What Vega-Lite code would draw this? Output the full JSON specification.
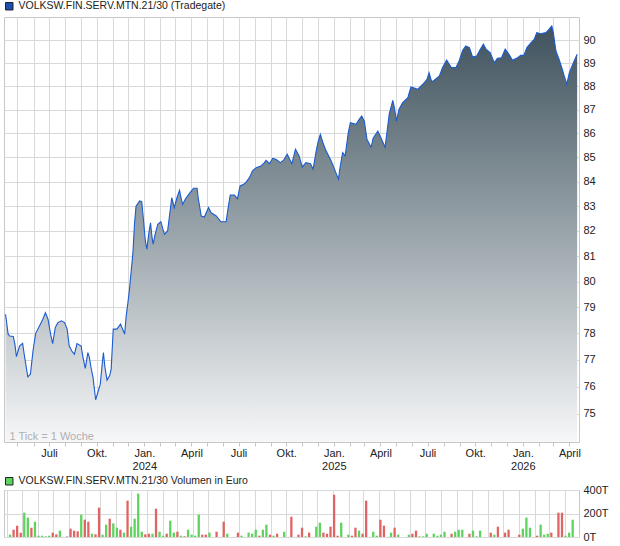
{
"$schema": "https://vega.github.io/schema/vega-lite/v6.json",
"background": "white",
"padding": {"left": 3, "top": 0, "right": 5, "bottom": 4},
"bounds": "flush",
"spacing": 48,
"config": {
  "font": "Liberation Sans",
  "view": {"stroke": "#c8c8c8"},
  "axis": {"gridColor": "#d9d9d9", "labelFont": "Liberation Sans", "titleFont": "Liberation Sans"},
  "legend": {"labelFont": "Liberation Sans"}
},
"resolve": {"scale": {"fill": "independent", "color": "independent", "stroke": "independent"}, "legend": {"fill": "independent", "stroke": "independent", "color": "independent"}},
"datasets": {
"price": [
{"date":"2023-04-08","price":78.73},{"date":"2023-04-13","price":77.97},{"date":"2023-04-16","price":77.90},{"date":"2023-04-23","price":77.88},{"date":"2023-04-26","price":77.59},{"date":"2023-04-29","price":77.12},{"date":"2023-05-05","price":77.52},{"date":"2023-05-11","price":77.62},{"date":"2023-05-14","price":77.21},{"date":"2023-05-21","price":76.36},{"date":"2023-05-26","price":76.46},{"date":"2023-05-31","price":77.33},{"date":"2023-06-05","price":77.99},{"date":"2023-06-11","price":78.22},{"date":"2023-06-19","price":78.54},{"date":"2023-06-24","price":78.79},{"date":"2023-06-29","price":78.54},{"date":"2023-07-04","price":77.97},{"date":"2023-07-08","price":77.61},{"date":"2023-07-13","price":78.22},{"date":"2023-07-18","price":78.41},{"date":"2023-07-25","price":78.48},{"date":"2023-07-31","price":78.41},{"date":"2023-08-05","price":78.16},{"date":"2023-08-09","price":77.52},{"date":"2023-08-14","price":77.33},{"date":"2023-08-19","price":77.21},{"date":"2023-08-24","price":77.61},{"date":"2023-09-01","price":77.52},{"date":"2023-09-04","price":77.14},{"date":"2023-09-09","price":76.68},{"date":"2023-09-14","price":77.27},{"date":"2023-09-17","price":77.08},{"date":"2023-09-20","price":76.71},{"date":"2023-09-24","price":76.33},{"date":"2023-09-29","price":75.51},{"date":"2023-10-03","price":75.77},{"date":"2023-10-08","price":76.09},{"date":"2023-10-11","price":76.71},{"date":"2023-10-14","price":77.27},{"date":"2023-10-17","price":76.71},{"date":"2023-10-21","price":76.24},{"date":"2023-10-26","price":76.40},{"date":"2023-10-29","price":76.65},{"date":"2023-11-02","price":78.16},{"date":"2023-11-09","price":78.16},{"date":"2023-11-16","price":78.35},{"date":"2023-11-21","price":78.12},{"date":"2023-11-24","price":77.97},{"date":"2023-11-27","price":78.67},{"date":"2023-11-30","price":79.12},{"date":"2023-12-03","price":79.63},{"date":"2023-12-10","price":81.13},{"date":"2023-12-13","price":82.27},{"date":"2023-12-16","price":83.00},{"date":"2023-12-23","price":83.21},{"date":"2023-12-27","price":83.18},{"date":"2023-12-30","price":82.53},
{"date":"2024-01-03","price":81.60},{"date":"2024-01-06","price":81.27},{"date":"2024-01-09","price":81.80},{"date":"2024-01-13","price":82.33},{"date":"2024-01-16","price":81.73},{"date":"2024-01-18","price":81.47},{"date":"2024-01-22","price":81.87},{"date":"2024-01-27","price":82.27},{"date":"2024-02-02","price":82.37},{"date":"2024-02-06","price":82.06},{"date":"2024-02-09","price":81.87},{"date":"2024-02-15","price":82.00},{"date":"2024-02-19","price":82.67},{"date":"2024-02-23","price":83.34},{"date":"2024-02-28","price":82.94},{"date":"2024-03-04","price":83.34},{"date":"2024-03-09","price":83.64},{"date":"2024-03-12","price":83.34},{"date":"2024-03-15","price":83.07},{"date":"2024-03-20","price":83.28},{"date":"2024-03-28","price":83.51},{"date":"2024-04-05","price":83.73},{"date":"2024-04-12","price":83.73},{"date":"2024-04-14","price":83.34},{"date":"2024-04-20","price":82.60},{"date":"2024-04-26","price":82.56},{"date":"2024-05-04","price":82.94},{"date":"2024-05-09","price":82.73},{"date":"2024-05-19","price":82.60},{"date":"2024-05-28","price":82.37},{"date":"2024-06-07","price":82.37},{"date":"2024-06-11","price":82.94},{"date":"2024-06-15","price":83.45},{"date":"2024-06-23","price":83.45},{"date":"2024-06-29","price":83.30},{"date":"2024-07-04","price":83.82},{"date":"2024-07-11","price":83.89},{"date":"2024-07-15","price":83.96},{"date":"2024-07-22","price":84.16},{"date":"2024-07-28","price":84.44},{"date":"2024-08-04","price":84.57},{"date":"2024-08-13","price":84.64},{"date":"2024-08-20","price":84.78},{"date":"2024-08-23","price":84.88},{"date":"2024-08-30","price":84.74},{"date":"2024-09-05","price":84.96},{"date":"2024-09-11","price":84.92},{"date":"2024-09-20","price":84.78},{"date":"2024-09-26","price":84.88},{"date":"2024-10-03","price":85.13},{"date":"2024-10-12","price":84.74},{"date":"2024-10-19","price":85.34},{"date":"2024-10-26","price":85.06},{"date":"2024-11-01","price":84.60},{"date":"2024-11-08","price":84.78},{"date":"2024-11-17","price":84.74},{"date":"2024-11-22","price":84.51},{"date":"2024-11-28","price":85.27},{"date":"2024-12-02","price":85.68},{"date":"2024-12-06","price":85.96},{"date":"2024-12-11","price":85.61},{"date":"2024-12-17","price":85.27},{"date":"2024-12-27","price":84.85},
{"date":"2025-01-05","price":84.37},{"date":"2025-01-10","price":84.10},{"date":"2025-01-13","price":84.57},{"date":"2025-01-18","price":85.20},{"date":"2025-01-23","price":85.06},{"date":"2025-01-26","price":85.55},{"date":"2025-01-29","price":86.03},{"date":"2025-02-02","price":86.45},{"date":"2025-02-13","price":86.38},{"date":"2025-02-19","price":86.59},{"date":"2025-02-24","price":86.73},{"date":"2025-03-01","price":86.52},{"date":"2025-03-06","price":85.76},{"date":"2025-03-14","price":85.42},{"date":"2025-03-18","price":85.80},{"date":"2025-03-27","price":86.10},{"date":"2025-04-02","price":85.82},{"date":"2025-04-10","price":85.42},{"date":"2025-04-14","price":86.10},{"date":"2025-04-18","price":86.81},{"date":"2025-04-25","price":87.40},{"date":"2025-04-28","price":87.09},{"date":"2025-05-02","price":86.52},{"date":"2025-05-07","price":87.02},{"date":"2025-05-14","price":87.30},{"date":"2025-05-24","price":87.51},{"date":"2025-05-30","price":87.97},{"date":"2025-06-04","price":87.94},{"date":"2025-06-12","price":87.87},{"date":"2025-06-22","price":88.09},{"date":"2025-06-30","price":88.30},{"date":"2025-07-04","price":88.59},{"date":"2025-07-09","price":88.20},{"date":"2025-07-14","price":88.26},{"date":"2025-07-24","price":88.45},{"date":"2025-07-30","price":88.81},{"date":"2025-08-07","price":89.13},{"date":"2025-08-16","price":88.81},{"date":"2025-08-25","price":88.81},{"date":"2025-08-31","price":89.10},{"date":"2025-09-07","price":89.56},{"date":"2025-09-13","price":89.75},{"date":"2025-09-20","price":89.68},{"date":"2025-09-26","price":89.27},{"date":"2025-10-04","price":89.31},{"date":"2025-10-11","price":89.61},{"date":"2025-10-17","price":89.83},{"date":"2025-10-22","price":89.61},{"date":"2025-10-30","price":89.46},{"date":"2025-11-07","price":89.02},{"date":"2025-11-13","price":89.21},{"date":"2025-11-21","price":89.24},{"date":"2025-11-28","price":89.61},{"date":"2025-12-06","price":89.36},{"date":"2025-12-12","price":89.13},{"date":"2025-12-22","price":89.24},{"date":"2025-12-28","price":89.34},
{"date":"2026-01-03","price":89.34},{"date":"2026-01-09","price":89.68},{"date":"2026-01-17","price":89.90},{"date":"2026-01-23","price":90.04},{"date":"2026-01-28","price":90.34},{"date":"2026-02-04","price":90.29},{"date":"2026-02-15","price":90.34},{"date":"2026-02-21","price":90.49},{"date":"2026-02-26","price":90.63},{"date":"2026-03-01","price":90.34},{"date":"2026-03-06","price":89.53},{"date":"2026-03-12","price":89.17},{"date":"2026-03-19","price":88.69},{"date":"2026-03-22","price":88.45},{"date":"2026-03-27","price":88.09},{"date":"2026-04-01","price":88.59},{"date":"2026-04-08","price":88.98},{"date":"2026-04-16","price":89.39}
],
"volume": [
{"date":"2023-04-07","vol":20,"dir":"up"},{"date":"2023-04-14","vol":62,"dir":"down"},{"date":"2023-04-21","vol":96,"dir":"down"},{"date":"2023-04-28","vol":37,"dir":"down"},{"date":"2023-05-05","vol":207,"dir":"up"},{"date":"2023-05-12","vol":165,"dir":"up"},{"date":"2023-05-19","vol":79,"dir":"down"},{"date":"2023-05-26","vol":130,"dir":"up"},{"date":"2023-06-02","vol":11,"dir":"up"},{"date":"2023-06-09","vol":11,"dir":"up"},{"date":"2023-06-16","vol":6,"dir":"up"},{"date":"2023-06-23","vol":11,"dir":"up"},{"date":"2023-06-30","vol":37,"dir":"down"},{"date":"2023-07-07","vol":23,"dir":"down"},{"date":"2023-07-14","vol":54,"dir":"up"},{"date":"2023-07-28","vol":8,"dir":"flat"},{"date":"2023-08-04","vol":71,"dir":"down"},{"date":"2023-08-11","vol":54,"dir":"down"},{"date":"2023-08-18","vol":48,"dir":"down"},{"date":"2023-08-25","vol":190,"dir":"up"},{"date":"2023-09-01","vol":147,"dir":"down"},{"date":"2023-09-08","vol":130,"dir":"down"},{"date":"2023-09-15","vol":28,"dir":"up"},{"date":"2023-09-22","vol":23,"dir":"down"},{"date":"2023-09-29","vol":250,"dir":"down"},{"date":"2023-10-06","vol":20,"dir":"up"},{"date":"2023-10-13","vol":105,"dir":"up"},{"date":"2023-10-20","vol":156,"dir":"down"},{"date":"2023-10-27","vol":116,"dir":"up"},{"date":"2023-11-03","vol":79,"dir":"up"},{"date":"2023-11-10","vol":62,"dir":"down"},{"date":"2023-11-17","vol":37,"dir":"up"},{"date":"2023-11-24","vol":309,"dir":"down"},{"date":"2023-12-01","vol":88,"dir":"up"},{"date":"2023-12-08","vol":156,"dir":"up"},{"date":"2023-12-15","vol":369,"dir":"up"},{"date":"2023-12-22","vol":45,"dir":"up"},{"date":"2023-12-29","vol":23,"dir":"down"},
{"date":"2024-01-05","vol":28,"dir":"down"},{"date":"2024-01-12","vol":28,"dir":"up"},{"date":"2024-01-19","vol":241,"dir":"down"},{"date":"2024-01-26","vol":45,"dir":"up"},{"date":"2024-02-02","vol":11,"dir":"up"},{"date":"2024-02-09","vol":28,"dir":"down"},{"date":"2024-02-16","vol":139,"dir":"up"},{"date":"2024-02-23","vol":37,"dir":"up"},{"date":"2024-03-01","vol":45,"dir":"down"},{"date":"2024-03-08","vol":11,"dir":"up"},{"date":"2024-03-15","vol":6,"dir":"down"},{"date":"2024-03-22","vol":62,"dir":"up"},{"date":"2024-03-29","vol":20,"dir":"up"},{"date":"2024-04-05","vol":11,"dir":"up"},{"date":"2024-04-12","vol":190,"dir":"up"},{"date":"2024-04-19","vol":20,"dir":"down"},{"date":"2024-04-26","vol":20,"dir":"down"},{"date":"2024-05-03","vol":37,"dir":"up"},{"date":"2024-05-17","vol":45,"dir":"down"},{"date":"2024-05-31","vol":130,"dir":"down"},{"date":"2024-06-07","vol":28,"dir":"up"},{"date":"2024-06-28","vol":37,"dir":"down"},{"date":"2024-07-05","vol":11,"dir":"up"},{"date":"2024-07-19","vol":37,"dir":"up"},{"date":"2024-07-26","vol":28,"dir":"up"},{"date":"2024-08-02","vol":62,"dir":"up"},{"date":"2024-08-09","vol":11,"dir":"down"},{"date":"2024-08-16","vol":62,"dir":"up"},{"date":"2024-08-23","vol":105,"dir":"up"},{"date":"2024-08-30","vol":20,"dir":"down"},{"date":"2024-09-06","vol":11,"dir":"up"},{"date":"2024-09-13","vol":28,"dir":"down"},{"date":"2024-09-27","vol":45,"dir":"up"},{"date":"2024-10-11","vol":173,"dir":"down"},{"date":"2024-10-25","vol":20,"dir":"down"},{"date":"2024-11-01","vol":79,"dir":"down"},{"date":"2024-11-08","vol":6,"dir":"up"},{"date":"2024-11-15","vol":37,"dir":"down"},{"date":"2024-11-29","vol":88,"dir":"up"},{"date":"2024-12-06","vol":122,"dir":"up"},{"date":"2024-12-13","vol":37,"dir":"down"},{"date":"2024-12-20","vol":28,"dir":"down"},{"date":"2024-12-27","vol":88,"dir":"down"},
{"date":"2025-01-03","vol":360,"dir":"down"},{"date":"2025-01-10","vol":11,"dir":"down"},{"date":"2025-01-17","vol":122,"dir":"up"},{"date":"2025-01-31","vol":20,"dir":"up"},{"date":"2025-02-07","vol":11,"dir":"down"},{"date":"2025-02-14","vol":79,"dir":"down"},{"date":"2025-02-21","vol":54,"dir":"up"},{"date":"2025-02-28","vol":28,"dir":"down"},{"date":"2025-03-07","vol":309,"dir":"down"},{"date":"2025-03-21","vol":45,"dir":"up"},{"date":"2025-03-28","vol":11,"dir":"up"},{"date":"2025-04-04","vol":147,"dir":"down"},{"date":"2025-04-11","vol":96,"dir":"down"},{"date":"2025-04-25","vol":37,"dir":"up"},{"date":"2025-05-02","vol":79,"dir":"down"},{"date":"2025-05-09","vol":20,"dir":"up"},{"date":"2025-05-30","vol":20,"dir":"up"},{"date":"2025-06-06","vol":28,"dir":"down"},{"date":"2025-06-13","vol":54,"dir":"down"},{"date":"2025-06-20","vol":6,"dir":"up"},{"date":"2025-06-27","vol":6,"dir":"up"},{"date":"2025-07-04","vol":28,"dir":"up"},{"date":"2025-07-18","vol":28,"dir":"up"},{"date":"2025-07-25","vol":11,"dir":"up"},{"date":"2025-08-01","vol":20,"dir":"up"},{"date":"2025-08-08","vol":45,"dir":"up"},{"date":"2025-08-22","vol":28,"dir":"down"},{"date":"2025-08-29","vol":45,"dir":"up"},{"date":"2025-09-05","vol":62,"dir":"up"},{"date":"2025-09-12","vol":62,"dir":"up"},{"date":"2025-09-26","vol":28,"dir":"down"},{"date":"2025-10-03","vol":54,"dir":"up"},{"date":"2025-10-10","vol":6,"dir":"up"},{"date":"2025-10-17","vol":54,"dir":"up"},{"date":"2025-11-07","vol":37,"dir":"down"},{"date":"2025-11-14","vol":20,"dir":"up"},{"date":"2025-11-21","vol":88,"dir":"down"},{"date":"2025-12-05","vol":37,"dir":"down"},{"date":"2025-12-12","vol":62,"dir":"down"},
{"date":"2026-01-02","vol":20,"dir":"down"},{"date":"2026-01-09","vol":71,"dir":"up"},{"date":"2026-01-16","vol":165,"dir":"up"},{"date":"2026-01-23","vol":79,"dir":"up"},{"date":"2026-02-06","vol":11,"dir":"down"},{"date":"2026-02-13","vol":105,"dir":"up"},{"date":"2026-02-20","vol":20,"dir":"up"},{"date":"2026-02-27","vol":28,"dir":"up"},{"date":"2026-03-06","vol":37,"dir":"down"},{"date":"2026-03-20","vol":207,"dir":"down"},{"date":"2026-03-27","vol":207,"dir":"down"},{"date":"2026-04-03","vol":11,"dir":"up"},{"date":"2026-04-10","vol":37,"dir":"up"},{"date":"2026-04-17","vol":147,"dir":"up"}
]
},
"vconcat": [
{
  "width": 575, "height": 425,
  "data": {"name": "price"},
  "resolve": {"axis": {"x": "independent"}},
  "layer": [
    {"mark": {"type": "area", "clip": true, "color": {"gradient": "linear", "x1": 0, "y1": 0, "x2": 0, "y2": 1, "stops": [{"offset": 0, "color": "#3f525d"}, {"offset": 0.5, "color": "#9aa5ab"}, {"offset": 1, "color": "#f6f7f8"}]}},
     "encoding": {
       "x": {"field": "date", "type": "temporal",
         "scale": {"domain": [{"year": 2023, "month": 4, "date": 5, "utc": true}, {"year": 2026, "month": 4, "date": 19, "hours": 14, "utc": true}]},
         "axis": {"orient": "top", "tickCount": {"interval": "month", "step": 1}, "grid": true, "labels": false, "ticks": false, "domain": false, "title": null}},
       "y": {"field": "price", "type": "quantitative",
         "scale": {"type": "log", "domain": [73.97, 91.03], "nice": false, "zero": false},
         "axis": {"orient": "right", "values": [75,76,77,78,79,80,81,82,83,84,85,86,87,88,89,90], "grid": true, "domain": false, "ticks": false, "labelPadding": 4, "labelFontSize": 11, "labelColor": "#222", "title": null}},
       "y2": {"datum": 73.97}}},
    {"mark": {"type": "line", "clip": true, "strokeWidth": 1.1, "color": "#1b5bd0"},
     "encoding": {
       "x": {"field": "date", "type": "temporal",
         "axis": {"orient": "bottom", "tickCount": {"interval": "month", "step": 1}, "grid": false, "domainColor": "#c8c8c8", "tickColor": "#c8c8c8", "tickSize": 4, "labelPadding": 1, "labelFontSize": 11, "labelColor": "#222", "labelOverlap": false, "labelFlush": false, "labelBound": false, "zindex": 1,
           "labelExpr": "month(datum.value)==0 ? ['Jan.', '' + year(datum.value)] : month(datum.value)==3 ? 'April' : month(datum.value)==6 ? 'Juli' : month(datum.value)==9 ? 'Okt.' : ''",
           "title": "1 Tick = 1 Woche", "titleColor": "#b0b0b0", "titleFontWeight": "normal", "titleFontSize": 11, "titleAnchor": "start", "titleAlign": "left", "titleBaseline": "alphabetic", "titleX": 5, "titleY": -3}},
       "y": {"field": "price", "type": "quantitative"}}},
    {"transform": [{"filter": "false"}],
     "mark": {"type": "square"},
     "encoding": {
       "fill": {"datum": "VOLKSW.FIN.SERV.MTN.21/30 (Tradegate)", "scale": {"range": ["#1d4fb0"]},
       "legend": {"orient": "none", "legendX": 0, "legendY": -16, "title": null, "symbolType": "square", "symbolSize": 56, "symbolStrokeColor": "#222", "symbolStrokeWidth": 1, "symbolOpacity": 1, "labelFontSize": 10.5, "labelColor": "#222", "labelOffset": 4, "labelLimit": 0, "padding": 0}}}}
  ]
},
{
  "width": 575, "height": 47,
  "data": {"name": "volume"},
  "encoding": {
    "x": {"field": "date", "type": "temporal",
      "scale": {"domain": [{"year": 2023, "month": 4, "date": 5, "utc": true}, {"year": 2026, "month": 4, "date": 19, "hours": 14, "utc": true}]},
      "axis": {"tickCount": {"interval": "month", "step": 1}, "grid": true, "labels": false, "ticks": false, "domain": false, "title": null}},
    "y": {"field": "vol", "type": "quantitative",
      "scale": {"domain": [0, 400], "nice": false},
      "axis": {"orient": "right", "values": [0, 200, 400], "labelExpr": "datum.value + 'T'", "grid": true, "domain": false, "ticks": false, "labelPadding": 4, "labelFontSize": 11, "labelColor": "#222", "title": null}}
  },
  "layer": [
    {"mark": {"type": "bar", "size": 2.3},
     "encoding": {"color": {"field": "dir", "type": "nominal", "scale": {"domain": ["up", "down", "flat"], "range": ["#5fd35f", "#e06464", "#bbbbbb"]}, "legend": null}}},
    {"transform": [{"filter": "false"}],
     "mark": {"type": "square"},
     "encoding": {"fill": {"datum": "VOLKSW.FIN.SERV.MTN.21/30 Volumen in Euro", "scale": {"range": ["#5fd35f"]},
       "legend": {"orient": "none", "legendX": 0, "legendY": -14, "title": null, "symbolType": "square", "symbolSize": 56, "symbolStrokeColor": "#222", "symbolStrokeWidth": 1, "symbolOpacity": 1, "labelFontSize": 10.5, "labelColor": "#222", "labelOffset": 4, "labelLimit": 0, "padding": 0}}}}
  ]
}
]
}
